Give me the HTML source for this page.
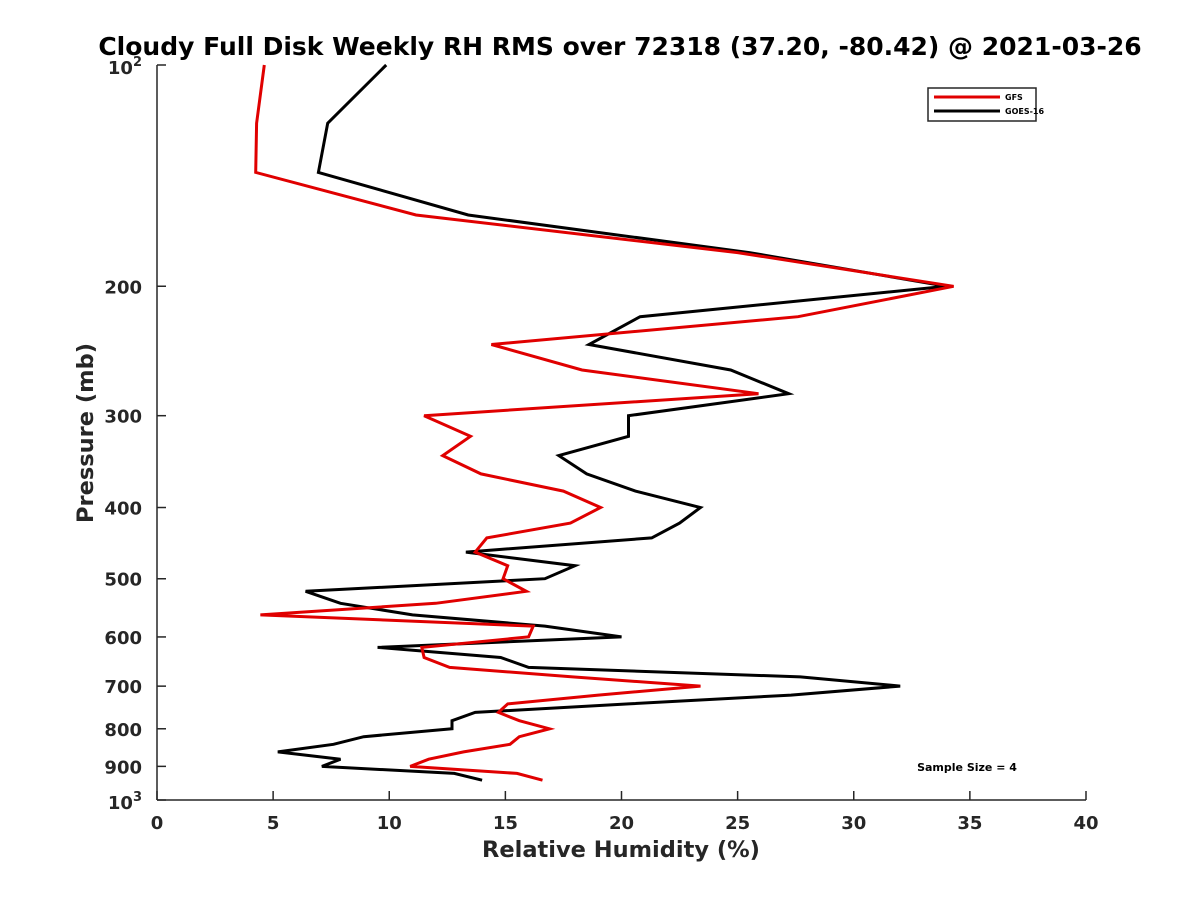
<!DOCTYPE html>
<html><head><meta charset="utf-8"><style>
body{margin:0;background:#fff;}
svg text{font-family:"DejaVu Sans","Liberation Sans",sans-serif;font-weight:bold;fill:#262626;}
</style></head><body>
<svg id="chart" width="1200" height="900" viewBox="0 0 1200 900" xmlns="http://www.w3.org/2000/svg">
<rect width="1200" height="900" fill="#fff"/>
<text x="620" y="55" text-anchor="middle" font-size="25" style="fill:#000">Cloudy Full Disk Weekly RH RMS over 72318 (37.20, -80.42) @ 2021-03-26</text>
<g id="axes"></g>
<g id="series"></g>
<text x="621" y="857" text-anchor="middle" font-size="22.5">Relative Humidity (%)</text>
<text transform="translate(93,433) rotate(-90)" text-anchor="middle" font-size="22.5">Pressure (mb)</text>
<g>
<rect x="928" y="88" width="108" height="33" fill="#fff" stroke="#262626" stroke-width="1.5"/>
<line x1="934" y1="97" x2="1000" y2="97" stroke="#e00000" stroke-width="3"/>
<text x="1005" y="100" font-size="8" style="fill:#000">GFS</text>
<line x1="934" y1="111" x2="1000" y2="111" stroke="#000" stroke-width="3"/>
<text x="1005" y="114" font-size="8" style="fill:#000">GOES-16</text>
</g>
<text x="967" y="771" text-anchor="middle" font-size="11" style="fill:#000">Sample Size = 4</text>
</svg>
<script>
const pressures=[100,120,140,160,180,200,220,240,260,280,300,320,340,360,380,400,420,440,460,480,500,520,540,560,580,600,620,640,660,680,700,720,740,760,780,800,820,840,860,880,900,920,940];
const gfsValues=[4.62,4.29,4.25,11.15,25.0,34.3,27.6,14.4,18.3,25.9,11.5,13.5,12.3,13.95,17.5,19.1,17.8,14.2,13.7,15.1,14.9,15.9,12.0,4.45,16.2,16.0,11.4,11.5,12.6,17.9,23.4,19.0,15.1,14.7,15.6,16.9,15.6,15.2,13.2,11.7,10.9,15.5,16.6];
const goesValues=[9.87,7.35,6.95,13.4,25.5,34.0,20.8,18.6,24.7,27.2,20.3,20.3,17.3,18.5,20.6,23.4,22.5,21.3,13.3,18.0,16.7,6.4,7.9,11.0,16.7,20.0,9.5,14.8,16.0,27.7,32.0,27.3,20.3,13.7,12.7,12.7,8.9,7.6,5.2,7.9,7.1,12.8,14.0];
const xTicks=[0,5,10,15,20,25,30,35,40];
const yTicks=[200,300,400,500,600,700,800,900];
const L=157,R=1086,T=65,B=800;
const xs=v=>L+(v-0)/(40-0)*(R-L);
const ys=p=>T+Math.log10(p/100)*(B-T);
const NS="http://www.w3.org/2000/svg";
const ax=document.getElementById('axes');
function mk(tag,attrs,parent){const e=document.createElementNS(NS,tag);for(const k in attrs)e.setAttribute(k,attrs[k]);parent.appendChild(e);return e;}
const xl=mk('line',{x1:L,y1:B,x2:R,y2:B,stroke:'#262626','stroke-width':1.5},ax);


const yl=mk('line',{x1:L,y1:T,x2:L,y2:B,stroke:'#262626','stroke-width':1.5},ax);


xTicks.forEach(v=>{
 const x=xs(v);
 mk('line',{x1:x,y1:B,x2:x,y2:B-9,stroke:'#262626','stroke-width':1.5},ax);
 const t=mk('text',{x:x,y:B+29,'text-anchor':'middle','font-size':18},ax);
 
 
 t.textContent=v;
});
yTicks.concat([100,1000]).forEach(p=>{
 const y=ys(p);
 mk('line',{x1:L,y1:y,x2:L+9,y2:y,stroke:'#262626','stroke-width':1.5},ax);
});
yTicks.forEach(p=>{
 const t=mk('text',{x:L-15,y:ys(p)+7,'text-anchor':'end','font-size':18},ax);
 
 
 t.textContent=p;
});
[[100,'2'],[1000,'3']].forEach(([p,e])=>{
 const t=mk('text',{x:L-15,y:ys(p)+9,'text-anchor':'end','font-size':18},ax);
 
 
 t.innerHTML='10<tspan dy="-8" font-size="13">'+e+'</tspan>';
});
const sg=document.getElementById('series');
function line(vals,color,name){
 const d=vals.map((v,i)=>(i?'L':'M')+xs(v).toFixed(1)+','+ys(pressures[i]).toFixed(1)).join(' ');
 const p=mk('path',{d:d,fill:'none',stroke:color,'stroke-width':3,'stroke-linejoin':'miter'},sg);
 
 
}
line(goesValues,'#000','goes16-line');
line(gfsValues,'#e00000','gfs-line');
</script>
</body></html>
